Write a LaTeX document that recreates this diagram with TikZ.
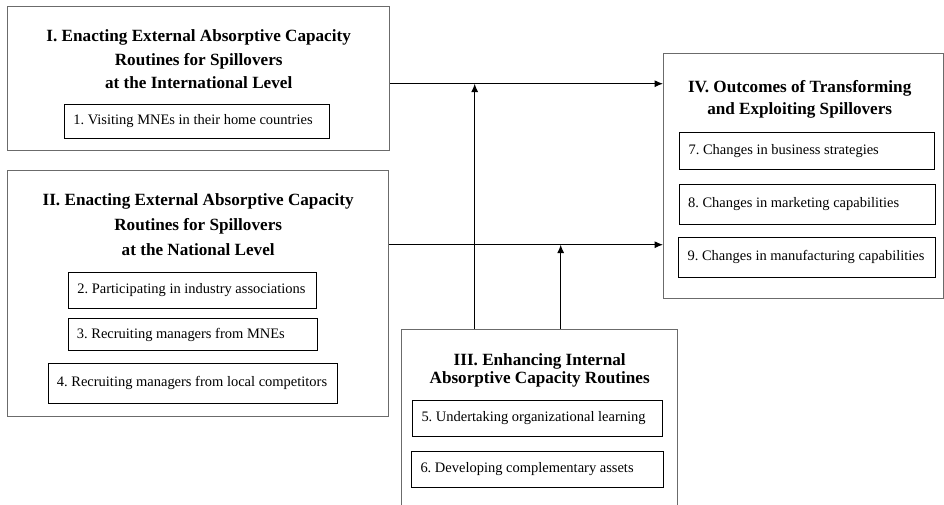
\documentclass[tikz,border=0pt]{standalone}
\usepackage{fontspec}
\setmainfont{Liberation Serif}
\usepackage{tikz}
\usetikzlibrary{positioning, arrows.meta}
\definecolor{framegray}{gray}{0.42}

\begin{document}
\begin{tikzpicture}

        % Define block styles
        \tikzstyle{frame} = [rectangle, draw=framegray, line width=1pt, inner sep=0pt, anchor=north west]
        \tikzstyle{title} = [inner sep=0pt, align=center, font=\fontsize{12.2}{17}\selectfont\bfseries]
        \tikzstyle{item} = [rectangle, draw, line width=0.7pt, inner xsep=0.22cm, inner ysep=0pt, align=flush left, font=\fontsize{10.3}{12}\selectfont\frenchspacing]
        \tikzstyle{arrow} = [line width=0.7pt, -{Latex[length=6pt,width=5pt]}]

        \clip (0,0) rectangle (23.6,-12.625);

        % Outer boxes
        \node (boxI) [frame, minimum width=9.55cm, minimum height=3.6cm] at (0.175,-0.15) {};
        \node (boxII) [frame, minimum width=9.525cm, minimum height=6.15cm] at (0.175,-4.25) {};
        \node (boxIII) [frame, minimum width=6.9cm, minimum height=5cm] at (10.025,-8.225) {};
        \node (boxIV) [frame, minimum width=7cm, minimum height=6.125cm] at (16.575,-1.325) {};

        % Titles
        \node (titleI) [title, below=0.575cm of boxI.north] {I. Enacting External Absorptive Capacity\\Routines for Spillovers\\at the International Level};
        \node (titleII) [title, font=\fontsize{12.2}{18}\selectfont\bfseries, below=0.575cm of boxII.north] {II. Enacting External Absorptive Capacity\\Routines for Spillovers\\at the National Level};
        \node (titleIII) [title, font=\fontsize{12.2}{13}\selectfont\bfseries, below=0.6cm of boxIII.north] {III. Enhancing Internal\\Absorptive Capacity Routines};
        \node (titleIV) [title, font=\fontsize{12.2}{15.6}\selectfont\bfseries, below=0.675cm of boxIV.north, xshift=-0.1cm] {IV. Outcomes of Transforming\\and Exploiting Spillovers};

        % Routines and outcomes
        \node (visiting) [item, text width=6.185cm, minimum height=0.85cm, below=2.45cm of boxI.north, xshift=-0.04cm] {1. Visiting MNEs in their home countries};
        \node (associations) [item, text width=5.76cm, minimum height=0.9cm, below=2.55cm of boxII.north, xshift=-0.14cm] {2. Participating in industry associations};
        \node (mnemanagers) [item, text width=5.785cm, minimum height=0.8cm, below=0.225cm of associations] {3. Recruiting managers from MNEs};
        \node (localmanagers) [item, text width=6.785cm, minimum height=1cm, below=0.3cm of mnemanagers] {4. Recruiting managers from local competitors};
        \node (learning) [item, text width=5.81cm, minimum height=0.9cm, below=1.775cm of boxIII.north, xshift=-0.05cm] {5. Undertaking organizational learning};
        \node (assets) [item, text width=5.86cm, minimum height=0.9cm, below=0.35cm of learning] {6. Developing complementary assets};
        \node (strategies) [item, text width=5.935cm, minimum height=0.925cm, below=1.975cm of boxIV.north, xshift=0.09cm] {7. Changes in business strategies};
        \node (marketing) [item, text width=5.96cm, minimum height=1cm, below=0.35cm of strategies] {8. Changes in marketing capabilities};
        \node (manufacturing) [item, text width=5.985cm, minimum height=1cm, below=0.3cm of marketing] {9. Changes in manufacturing capabilities};

        % Arrows
        \coordinate (intl) at ([yshift=-0.125cm]boxI.east);
        \coordinate (natl) at ([yshift=1.225cm]boxII.east);
        \draw [arrow] (intl) -- (intl -| boxIV.west);
        \draw [arrow] (natl) -- (natl -| boxIV.west);
        \draw [arrow] ([xshift=-1.625cm]boxIII.north) -- ([xshift=-1.625cm]boxIII.north |- intl);
        \draw [arrow] ([xshift=0.525cm]boxIII.north) -- ([xshift=0.525cm]boxIII.north |- natl);

\end{tikzpicture}
\end{document}
